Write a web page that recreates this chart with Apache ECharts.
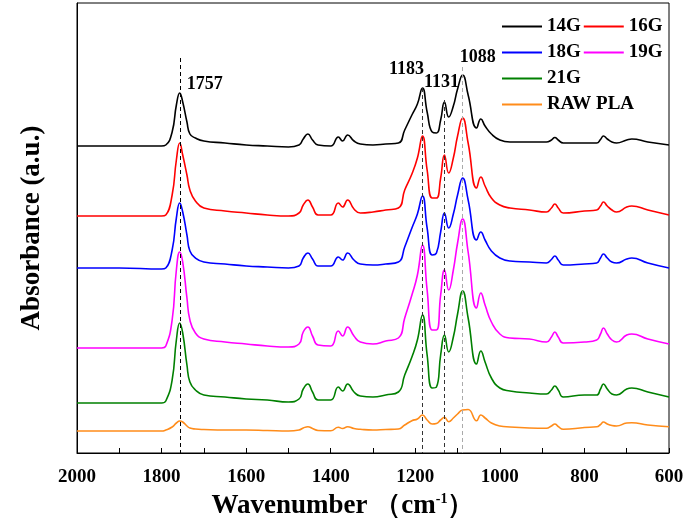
<!DOCTYPE html>
<html>
<head>
<meta charset="utf-8">
<script src="https://cdn.jsdelivr.net/npm/echarts@6/dist/echarts.min.js"></script>
<style>
html, body { margin: 0; padding: 0; background: #fff; }
#ftir { width: 687px; height: 521px; }
</style>
</head>
<body>
<div id="ftir"></div>
<script>
// 波数 (cm-1)
var wavenumbers = [2000, 1900, 1800, 1790, 1775, 1765, 1757, 1750, 1740, 1733, 1720, 1700, 1650, 1600, 1550, 1500,
    1475, 1465, 1454, 1443, 1430, 1400, 1382, 1372, 1360, 1345, 1330, 1300, 1270, 1240, 1225, 1208,
    1195, 1183, 1172, 1160, 1150, 1140, 1131, 1121, 1110, 1100, 1088, 1075, 1055, 1045, 1035, 1020,
    1000, 976, 930, 890, 878, 870, 862, 850, 800, 771, 762, 755, 746, 735, 724, 700, 688, 650, 600];

// 吸光度 (已叠加偏移)
var g14 = [307, 307, 307, 308, 321, 348, 360, 351, 331, 319, 315, 312, 310, 308, 307, 306,
    308, 314, 319, 313, 308, 307, 316, 312, 318, 312, 309, 308, 309, 310, 323, 338,
    349, 365, 341, 321, 320, 333, 351, 336, 347, 364, 378, 358, 325, 334, 327, 319,
    313, 311, 311, 311, 313, 315.5, 313, 310, 310, 310, 313.5, 317, 314, 311, 310, 313, 314, 311, 308];
var g16 = [237, 237, 237, 238, 258, 293, 310, 298, 278, 263, 252, 245, 242, 240, 238, 237,
    240, 248, 253, 246, 238, 238, 250, 246, 253, 244, 240, 241, 243, 245, 263, 279,
    295, 317, 283, 255, 255, 275, 298, 280, 295, 317, 335, 310, 265, 276, 267, 255,
    248, 245, 243, 241, 245, 249, 245, 240, 242, 243, 247, 251, 247, 243, 241, 246, 247, 243, 238];
var g18 = [185, 185, 184, 185, 203, 235, 250, 241, 218, 202, 195, 191, 189, 187, 186, 185,
    187, 195, 200, 194, 187, 187, 196, 193, 200, 193, 189, 188, 189, 191, 206, 225,
    239, 257, 225, 198, 200, 221, 240, 225, 239, 258, 275, 253, 213, 221, 213, 202,
    195, 192, 191, 190, 193.5, 197, 193, 188, 189, 190, 195, 199, 195, 191, 190, 194, 195, 190, 185];
var g19 = [105, 105, 105, 107, 133, 183, 201, 191, 155, 133, 120, 114, 111, 109, 107, 106,
    109, 121, 126, 117, 108, 107, 122, 117, 126, 117, 111, 109, 112, 115, 135, 158,
    178, 208, 163, 123, 123, 158, 183, 163, 183, 210, 234, 201, 145, 160, 148, 131,
    119, 115, 114, 111, 116, 121, 116, 110, 111, 113, 119, 125, 119, 113, 111, 118, 119, 114, 109];
var g21 = [50, 50, 50, 52, 73, 113, 130, 120, 88, 71, 63, 58, 56, 54, 53, 51,
    54, 64, 69, 61, 53, 53, 66, 62, 69, 61, 57, 56, 58, 61, 78, 96,
    113, 138, 98, 65, 66, 98, 118, 101, 116, 139, 162, 135, 89, 102, 91, 75,
    65, 62, 60, 59, 63, 67, 63, 56, 58, 58, 64, 69, 64, 59, 58, 64, 65, 61, 56];
var rawPla = [22, 22, 22, 23, 26, 30, 32, 31, 27, 25, 24, 23.5, 23, 23, 22.5, 22,
    23, 25, 26.3, 24.5, 22.5, 22.3, 25.7, 24.5, 26.3, 24.5, 23.7, 23, 23.5, 24, 28, 32.3,
    34, 38, 33, 29, 29.5, 33, 35.7, 31.3, 35, 39, 43, 43.5, 32.3, 38, 35, 30,
    27, 26, 25, 24.7, 27, 29, 26.5, 23.7, 25.5, 26.3, 28.5, 31, 29, 27.5, 27, 30, 30.3, 28, 26.3];

var seriesNames = ['14G', '16G', '18G', '19G', '21G', 'RAW PLA'];
var seriesColors = ['#000000', '#ff0000', '#0000ff', '#ff00ff', '#008000', '#ff8c1a'];
var seriesValues = [g14, g16, g18, g19, g21, rawPla];

// 特征峰
var peakLabels = [1757, 1183, 1131, 1088];
var peakLineTop = [395, 365, 353, 386];
var peakLineColors = ['#000000', '#333333', '#333333', '#aaaaaa'];
var peakLabelTop = [369, 384, 371, 396];
var peakLabelOffset = [[25, 0], [-16, 0], [-3, 0], [15, 0]];

var serifFont = '"Times New Roman", "Liberation Serif", serif';

var chartDom = document.getElementById('ftir');
var chart = echarts.init(chartDom);

var series = seriesNames.map(function (name, i) {
    return {
        name: name,
        type: 'line',
        smooth: 0.5,
        showSymbol: false,
        symbol: 'none',
        lineStyle: { color: seriesColors[i], width: 1.6 },
        itemStyle: { color: seriesColors[i] },
        data: wavenumbers.map(function (w, k) { return [w, seriesValues[i][k]]; })
    };
});

// 虚线和标注挂在第一条曲线上
series[0].markLine = {
    silent: true,
    symbol: 'none',
    label: { show: false },
    data: peakLabels.map(function (p, i) {
        return [
            { coord: [p, peakLineTop[i]], lineStyle: { color: peakLineColors[i], type: [4, 3], width: 1 } },
            { coord: [p, 0] }
        ];
    })
};
series[0].markPoint = {
    silent: true,
    symbol: 'circle',
    symbolSize: 0,
    data: peakLabels.map(function (p, i) {
        return {
            coord: [p, peakLabelTop[i]],
            label: {
                show: true,
                formatter: String(p),
                offset: peakLabelOffset[i],
                color: '#000',
                fontFamily: serifFont,
                fontWeight: 'bold',
                fontSize: 18
            }
        };
    })
};

var option = {
    backgroundColor: '#fff',
    animation: false,
    grid: {
        left: 77,
        right: 18,
        top: 3,
        bottom: 68,
        outerBoundsMode: 'none',
        show: true,
        borderColor: '#000',
        borderWidth: 1
    },
    legend: {
        data: seriesNames,
        left: 497,
        top: 10,
        width: 180,
        itemWidth: 40,
        itemHeight: 2,
        itemGap: 3,
        icon: 'rect',
        textStyle: {
            color: '#000',
            fontFamily: serifFont,
            fontWeight: 'bold',
            fontSize: 19,
            lineHeight: 23
        }
    },
    xAxis: {
        type: 'value',
        inverse: true,
        min: 600,
        max: 2000,
        interval: 200,
        name: '{t|Wavenumber （cm}{s|-1}{t|）}',
        nameLocation: 'middle',
        nameGap: 34,
        nameTextStyle: {
            padding: [0, 60, 0, 0],
            rich: {
                t: { fontFamily: serifFont, fontWeight: 'bold', fontSize: 27, color: '#000' },
                s: { fontFamily: serifFont, fontWeight: 'bold', fontSize: 14, color: '#000', padding: [0, 0, 14, 0] }
            }
        },
        axisLine: { lineStyle: { color: '#000', width: 1 } },
        axisTick: { inside: true, length: 5, lineStyle: { color: '#000' } },
        minorTick: { show: true, splitNumber: 2, length: 5, lineStyle: { color: '#000' } },
        splitLine: { show: false },
        axisLabel: {
            margin: 15,
            color: '#000',
            fontFamily: serifFont,
            fontWeight: 'bold',
            fontSize: 19,
            formatter: function (v) { return String(v); }
        }
    },
    yAxis: {
        type: 'value',
        min: 0,
        max: 450,
        name: 'Absorbance (a.u.)',
        nameLocation: 'middle',
        nameGap: 31,
        nameTextStyle: {
            color: '#000',
            fontFamily: serifFont,
            fontWeight: 'bold',
            fontSize: 27
        },
        axisLine: { show: true, lineStyle: { color: '#000', width: 1 } },
        axisTick: { show: false },
        axisLabel: { show: false },
        splitLine: { show: false }
    },
    series: series
};
chart.setOption(option);
</script>
</body>
</html>
